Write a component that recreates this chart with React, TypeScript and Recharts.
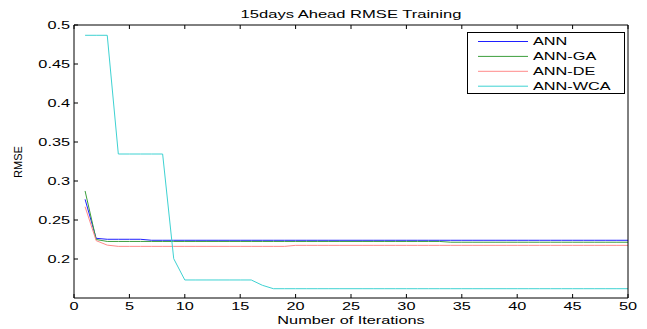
import { LineChart, Line, XAxis, YAxis, Legend, Label } from "recharts";

const FONT = "'Liberation Sans', Arial, sans-serif";
// the source image is stretched sideways, so text gets a horizontal scale
const SX = 1.48;

const iterations = [
  1, 2, 3, 4, 5, 6, 7, 8, 9, 10, 11, 12, 13, 14, 15, 16, 17, 18, 19, 20, 21, 22, 23, 24, 25,
  26, 27, 28, 29, 30, 31, 32, 33, 34, 35, 36, 37, 38, 39, 40, 41, 42, 43, 44, 45, 46, 47, 48, 49, 50,
];

const ann = [
  0.2765, 0.2265, 0.2253, 0.2253, 0.2253, 0.2253, 0.224, 0.224, 0.224, 0.224,
  0.224, 0.224, 0.224, 0.224, 0.224, 0.224, 0.224, 0.224, 0.224, 0.224,
  0.224, 0.224, 0.224, 0.224, 0.224, 0.224, 0.224, 0.224, 0.224, 0.224,
  0.224, 0.224, 0.224, 0.224, 0.224, 0.224, 0.224, 0.224, 0.224, 0.224,
  0.224, 0.224, 0.224, 0.224, 0.224, 0.224, 0.224, 0.224, 0.224, 0.224,
];

const annGa = [
  0.2872, 0.225, 0.2225, 0.2225, 0.2225, 0.2225, 0.2225, 0.2225, 0.2225, 0.2225,
  0.2225, 0.2225, 0.2225, 0.2225, 0.2225, 0.2225, 0.2225, 0.2225, 0.2225, 0.2225,
  0.2225, 0.2225, 0.2225, 0.2225, 0.2225, 0.2225, 0.2225, 0.2225, 0.2225, 0.2225,
  0.2225, 0.2225, 0.2225, 0.2215, 0.2215, 0.2215, 0.2215, 0.2215, 0.2215, 0.2215,
  0.2215, 0.2215, 0.2215, 0.2215, 0.2215, 0.2215, 0.2215, 0.2215, 0.2215, 0.2215,
];

const annDe = [
  0.267, 0.2235, 0.2178, 0.2162, 0.2162, 0.2162, 0.2162, 0.2162, 0.2162, 0.2162,
  0.2162, 0.2162, 0.2162, 0.2162, 0.2162, 0.2162, 0.2162, 0.2162, 0.2162, 0.2175,
  0.2175, 0.2175, 0.2175, 0.2175, 0.2175, 0.2175, 0.2175, 0.2175, 0.2175, 0.2175,
  0.2175, 0.2175, 0.2175, 0.2175, 0.2175, 0.2175, 0.2175, 0.2175, 0.2175, 0.2175,
  0.2175, 0.2175, 0.2175, 0.2175, 0.2175, 0.2175, 0.2175, 0.2175, 0.2175, 0.2175,
];

const annWca = [
  0.4868, 0.4868, 0.4868, 0.3346, 0.3346, 0.3346, 0.3346, 0.3346, 0.2004, 0.1731,
  0.1731, 0.1731, 0.1731, 0.1731, 0.1731, 0.1731, 0.1663, 0.1619, 0.1619, 0.1619,
  0.1619, 0.1619, 0.1619, 0.1619, 0.1619, 0.1619, 0.1619, 0.1619, 0.1619, 0.1619,
  0.1619, 0.1619, 0.1619, 0.1619, 0.1619, 0.1619, 0.1619, 0.1619, 0.1619, 0.1619,
  0.1619, 0.1619, 0.1619, 0.1619, 0.1619, 0.1619, 0.1619, 0.1619, 0.1619, 0.1619,
];

const xTicks = [0, 5, 10, 15, 20, 25, 30, 35, 40, 45, 50];
const yTicks = [0.2, 0.25, 0.3, 0.35, 0.4, 0.45, 0.5];

const SERIES = [
  { key: "ann", name: "ANN", color: "#1f1fff" },
  { key: "annGa", name: "ANN-GA", color: "#3c9e3c" },
  { key: "annDe", name: "ANN-DE", color: "#ff8a8a" },
  { key: "annWca", name: "ANN-WCA", color: "#3ed2d2" },
];

const data = iterations.map((it, i) => ({
  iter: it,
  ann: ann[i],
  annGa: annGa[i],
  annDe: annDe[i],
  annWca: annWca[i],
}));

function XTick({ x, y, payload }: any) {
  return (
    <g transform={`translate(${x},${y}) scale(${SX},1)`}>
      <text x={0} y={0} dy="0.71em" textAnchor="middle" fontSize={11} fontFamily={FONT} fill="#000">
        {payload.value}
      </text>
    </g>
  );
}

function YTick({ x, y, payload }: any) {
  return (
    <g transform={`translate(${x},${y}) scale(${SX},1)`}>
      <text x={0} y={0} dy="0.355em" textAnchor="end" fontSize={11} fontFamily={FONT} fill="#000">
        {payload.value}
      </text>
    </g>
  );
}

const NoTick = () => <g />;

function TitleLabel() {
  return (
    <g transform={`translate(351,18) scale(${SX},1)`}>
      <text x={0} y={0} textAnchor="middle" fontSize={11.2} fontFamily={FONT} fill="#000">
        15days Ahead RMSE Training
      </text>
    </g>
  );
}

function XAxisLabel({ viewBox }: any) {
  const cx = viewBox.x + viewBox.width / 2;
  return (
    <g transform={`translate(${cx},324) scale(${SX},1)`}>
      <text x={0} y={0} textAnchor="middle" fontSize={11} fontFamily={FONT} fill="#000">
        Number of Iterations
      </text>
    </g>
  );
}

function YAxisLabel() {
  return (
    <text
      x={22}
      y={162}
      textAnchor="middle"
      fontSize={11}
      fontFamily={FONT}
      fill="#000"
      transform="rotate(-90, 22, 162)"
    >
      RMSE
    </text>
  );
}

function LegendBox({ payload }: any) {
  const items = [...(payload ?? [])].sort(
    (a: any, b: any) =>
      SERIES.findIndex((s) => s.name === a.value) - SERIES.findIndex((s) => s.name === b.value)
  );
  return (
    <svg width={158} height={62} style={{ display: "block" }}>
      <rect x={0.5} y={0.5} width={157} height={61} fill="#fff" stroke="#000" />
      {items.map((p: any, i: number) => {
        const cy = 9.5 + i * 14.9;
        return (
          <g key={p.value}>
            <line x1={11} x2={61} y1={cy} y2={cy} stroke={p.color} strokeWidth={1} />
            <g transform={`translate(66,${cy}) scale(${SX},1)`}>
              <text x={0} y={0} dy="0.355em" fontSize={11} fontFamily={FONT} fill="#000">
                {p.value}
              </text>
            </g>
          </g>
        );
      })}
    </svg>
  );
}

export default function App() {
  return (
    <div style={{ position: "absolute", left: 0, top: 0, width: 647, height: 329, background: "#fff" }}>
      <LineChart
        width={647}
        height={329}
        data={data}
        margin={{ top: 24, right: 18, bottom: 11, left: 34 }}
      >
        <XAxis
          dataKey="iter"
          type="number"
          domain={[0, 50]}
          ticks={xTicks}
          height={20}
          tickSize={-4}
          tickMargin={8}
          tick={<XTick />}
          axisLine={{ stroke: "#000" }}
          tickLine={{ stroke: "#000" }}
          allowDataOverflow
        >
          <Label content={<XAxisLabel />} />
        </XAxis>
        <XAxis
          xAxisId="top"
          dataKey="iter"
          type="number"
          orientation="top"
          domain={[0, 50]}
          ticks={xTicks}
          height={1}
          tickSize={-4}
          tick={NoTick}
          axisLine={{ stroke: "#000" }}
          tickLine={{ stroke: "#000" }}
        >
          <Label content={<TitleLabel />} />
        </XAxis>
        <YAxis
          type="number"
          domain={[0.15, 0.5]}
          ticks={yTicks}
          width={40}
          tickSize={-4}
          tickMargin={8}
          tick={<YTick />}
          axisLine={{ stroke: "#000" }}
          tickLine={{ stroke: "#000" }}
          allowDataOverflow
        >
          <Label content={<YAxisLabel />} />
        </YAxis>
        <YAxis
          yAxisId="right"
          type="number"
          orientation="right"
          domain={[0.15, 0.5]}
          ticks={yTicks}
          width={1}
          tickSize={-4}
          tick={NoTick}
          axisLine={{ stroke: "#000" }}
          tickLine={{ stroke: "#000" }}
        />
        <Legend
          layout="vertical"
          align="center"
          verticalAlign="middle"
          wrapperStyle={{ left: 467, top: 32, width: 158, height: 62 }}
          content={<LegendBox />}
        />
        {SERIES.map((s) => (
          <Line
            key={s.key}
            type="linear"
            dataKey={s.key}
            name={s.name}
            stroke={s.color}
            strokeWidth={1}
            dot={false}
            activeDot={false}
            isAnimationActive={false}
          />
        ))}
      </LineChart>
    </div>
  );
}
